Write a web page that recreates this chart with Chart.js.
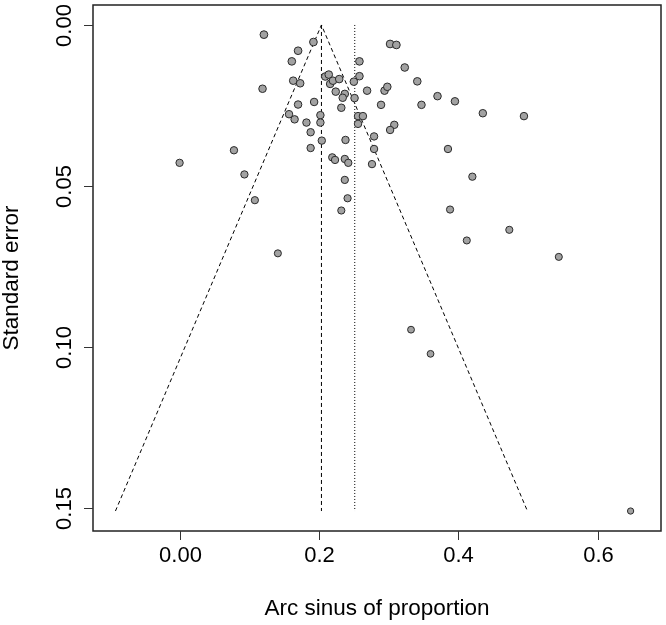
<!DOCTYPE html>
<html>
<head>
<meta charset="utf-8">
<script src="https://cdn.jsdelivr.net/npm/chart.js@4"></script>
<style>
body{margin:0;background:#fff;}
</style>
</head>
<body>
<canvas id="funil" width="666" height="625"></canvas>
<script>
// estudos: arco seno da proporcao e erro padrao
const estudoX = [
0.121, 0.192, 0.170, 0.161, 0.209, 0.214, 0.163, 0.173, 0.216, 0.220,
0.229, 0.250, 0.258, 0.258, 0.119, 0.224, 0.237, 0.234, 0.251, 0.269,
0.193, 0.170, 0.232, 0.302, 0.311, 0.323, 0.341, 0.294, 0.298, 0.289,
0.347, 0.370, 0.395, 0.435, 0.494, 0.157, 0.165, 0.202, 0.202, 0.182,
0.188, 0.204, 0.188, 0.238, 0.256, 0.263, 0.256, 0.308, 0.302, 0.279,
0.279, 0.276, 0.385, 0.219, 0.223, 0.237, 0.242, 0.237, 0.420, 0.241,
0.232, 0.388, 0.078, 0.000, 0.093, 0.108, 0.473, 0.412, 0.544, 0.141,
0.332, 0.360, 0.647
];
const estudoSE = [
0.0030, 0.0053, 0.0080, 0.0113, 0.0160, 0.0154, 0.0173, 0.0181, 0.0183, 0.0173,
0.0168, 0.0176, 0.0159, 0.0113, 0.0198, 0.0207, 0.0214, 0.0226, 0.0227, 0.0204,
0.0239, 0.0247, 0.0257, 0.0059, 0.0062, 0.0132, 0.0175, 0.0204, 0.0192, 0.0248,
0.0248, 0.0221, 0.0237, 0.0274, 0.0283, 0.0277, 0.0293, 0.0280, 0.0303, 0.0303,
0.0333, 0.0359, 0.0382, 0.0357, 0.0283, 0.0283, 0.0307, 0.0310, 0.0326, 0.0346,
0.0385, 0.0432, 0.0385, 0.0411, 0.0419, 0.0416, 0.0428, 0.0481, 0.0471, 0.0538,
0.0576, 0.0573, 0.0389, 0.0428, 0.0464, 0.0544, 0.0636, 0.0669, 0.0720, 0.0709,
0.0946, 0.1021, 0.1509
];

// funil (limites) e linhas de efeito fixo / aleatorio
const funilX = [-0.092, 0.2035, 0.499];
const funilSE = [0.1509, 0, 0.1509];
const fixoX = [0.2035, 0.2035];
const aleatorioX = [0.2513, 0.2513];
const linhaSE = [0, 0.1509];

const xTicks = [0, 0.2, 0.4, 0.6];
const xTickLabels = ["0.00", "0.2", "0.4", "0.6"];
const yTicks = [0, 0.05, 0.10, 0.15];
const yTickLabels = ["0.00", "0.05", "0.10", "0.15"];
const tituloX = "Arc sinus of proportion";
const tituloY = "Standard error";

const fonte = "'Liberation Sans', Arial, Helvetica, sans-serif";

function pares(xs, ys){
return xs.map((v,i) => ({ x:v, y:ys[i] }));
}

// eixos no estilo do R: caixa, tracos para fora, rotulos do eixo y girados
const eixosR = {
id:"eixosR",
afterDraw(chart){

const ctx = chart.ctx;
const a = chart.chartArea;
const sx = chart.scales.x;
const sy = chart.scales.y;

ctx.save();

ctx.strokeStyle = "#222";
ctx.lineWidth = 1.5;
ctx.strokeRect(a.left, a.top, a.right - a.left, a.bottom - a.top);

ctx.lineWidth = 1;
ctx.strokeStyle = "#333";
ctx.fillStyle = "#000";
ctx.font = "22px " + fonte;
ctx.textAlign = "center";
ctx.textBaseline = "middle";

xTicks.forEach((v,i)=>{
const px = Math.round(sx.getPixelForValue(v)) + 0.5;
ctx.beginPath();
ctx.moveTo(px, a.bottom);
ctx.lineTo(px, a.bottom + 9);
ctx.stroke();
ctx.fillText(xTickLabels[i], px, a.bottom + 25);
});

yTicks.forEach((v,i)=>{
const py = Math.round(sy.getPixelForValue(v)) + 0.5;
ctx.beginPath();
ctx.moveTo(a.left - 9, py);
ctx.lineTo(a.left, py);
ctx.stroke();
ctx.save();
ctx.translate(a.left - 28, py);
ctx.rotate(-Math.PI/2);
ctx.fillText(yTickLabels[i], 0, 0);
ctx.restore();
});

ctx.font = "22.5px " + fonte;
ctx.fillText(tituloX, (a.left + a.right)/2, a.bottom + 78);

ctx.save();
ctx.translate(12, 278);
ctx.rotate(-Math.PI/2);
ctx.fillText(tituloY, 0, 0);
ctx.restore();

ctx.restore();
}
};

const linhaBase = {
showLine:true,
pointRadius:0,
borderColor:"#000",
borderWidth:1,
fill:false
};

new Chart(document.getElementById("funil"), {
type:"scatter",
data:{
datasets:[
{
label:"Estudos",
data:pares(estudoX, estudoSE),
backgroundColor:"#a2a2a2",
borderColor:"#2a2a2a",
borderWidth:1,
pointRadius:c => c.raw ? 3.9 - 5 * c.raw.y : 3.8
},
Object.assign({ label:"Funil", data:pares(funilX, funilSE), borderDash:[4,3] }, linhaBase),
Object.assign({ label:"Fixo", data:pares(fixoX, linhaSE), borderDash:[4,3] }, linhaBase),
Object.assign({ label:"Aleatorio", data:pares(aleatorioX, linhaSE), borderDash:[1,2] }, linhaBase)
]
},
options:{
responsive:false,
animation:false,
layout:{ padding:{ left:93, top:4, right:3, bottom:94 } },
plugins:{
legend:{ display:false },
tooltip:{ enabled:false }
},
scales:{
x:{ type:"linear", min:-0.1242, max:0.6906, display:false },
y:{ type:"linear", min:-0.0062, max:0.1571, reverse:true, display:false }
}
},
plugins:[eixosR]
});
</script>
</body>
</html>
